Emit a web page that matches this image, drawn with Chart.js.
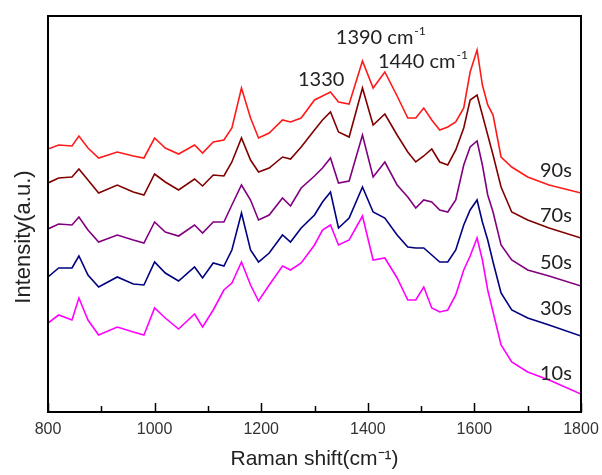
<!DOCTYPE html>
<html>
<head>
<meta charset="utf-8">
<script src="https://cdn.jsdelivr.net/npm/chart.js@4.4.1/dist/chart.umd.min.js"></script>
<style>
  html, body { margin: 0; padding: 0; background: #fff; }
</style>
</head>
<body>
<canvas id="raman" width="602" height="475"></canvas>
<script>
// Raman shift (cm-1) sample positions, shared by all five spectra
const shift = [800, 820, 845, 858, 875, 895, 930, 960, 980, 1000,
  1020, 1045, 1075, 1090, 1110, 1130, 1145, 1163, 1180, 1195,
  1215, 1240, 1255, 1275, 1300, 1315, 1330, 1345, 1365, 1390,
  1410, 1432, 1455, 1475, 1490, 1505, 1520, 1535, 1550, 1565,
  1580, 1592, 1605, 1615, 1625, 1635, 1650, 1670, 1700, 1740, 1800];

// intensities (a.u., stacked offsets as in the figure)
const s90 = [263, 267, 266, 276, 264, 254, 260, 256, 254, 274,
  264, 258, 267, 259, 270, 272, 284, 324, 294, 274,
  279, 292, 290, 294, 312, 316, 320, 310, 308, 351,
  324, 340, 316, 294, 294, 304, 292, 282, 285, 290,
  304, 340, 362, 327, 307, 297, 255, 245, 235, 227, 219];

const s70 = [229, 234, 235, 243, 232, 219, 227, 220, 217, 238,
  230, 222, 233, 226, 237, 236, 250, 274, 252, 240,
  244, 255, 253, 265, 282, 292, 300, 280, 275, 324,
  287, 298, 277, 260, 250, 256, 263, 250, 247, 262,
  284, 312, 317, 297, 277, 257, 225, 200, 192, 184, 174];

const s50 = [183, 188, 187, 195, 182, 170, 177, 172, 169, 190,
  180, 176, 187, 179, 190, 190, 207, 227, 212, 192,
  197, 214, 206, 224, 236, 244, 254, 229, 231, 277,
  235, 250, 227, 215, 204, 212, 210, 202, 200, 212,
  247, 265, 271, 247, 217, 200, 167, 152, 142, 136, 126];

const s30 = [135, 144, 144, 156, 137, 125, 135, 128, 127, 150,
  139, 131, 145, 134, 149, 146, 162, 199, 162, 150,
  159, 177, 170, 184, 197, 210, 220, 184, 194, 225,
  200, 194, 177, 165, 164, 164, 157, 150, 150, 162,
  187, 202, 212, 190, 172, 150, 119, 102, 94, 87, 76];

const s10 = [89, 97, 92, 114, 92, 77, 85, 80, 77, 104,
  94, 83, 98, 85, 102, 122, 129, 150, 127, 111,
  127, 146, 142, 149, 167, 182, 187, 167, 172, 196,
  152, 154, 134, 112, 112, 125, 104, 100, 102, 117,
  142, 156, 174, 152, 122, 100, 67, 50, 40, 32, 18];

const seriesNames = ["90s", "70s", "50s", "30s", "10s"];
const seriesValues = [s90, s70, s50, s30, s10];
const seriesColors = ["#ff1a1a", "#800000", "#800080", "#000080", "#ff00ff"];

// text written on the plot, at data coordinates
const notes = [
  { text: "1330", x: 1269, y: 326 },
  { text: "1390 cm", sup: "-1", x: 1340, y: 368 },
  { text: "1440 cm", sup: "-1", x: 1419, y: 344 },
  { text: "90s", x: 1723, y: 235 },
  { text: "70s", x: 1723, y: 190 },
  { text: "50s", x: 1723, y: 143 },
  { text: "30s", x: 1723, y: 97 },
  { text: "10s", x: 1723, y: 32 }
];

const frameAndNotes = {
  id: "frameAndNotes",
  afterDraw(chart) {
    const { ctx, chartArea: a, scales: { x, y } } = chart;
    ctx.save();
    ctx.strokeStyle = "#000";
    ctx.lineWidth = 2;
    ctx.strokeRect(a.left, a.top, a.right - a.left, a.bottom - a.top);

    // inward tick marks, long at labelled values
    ctx.lineWidth = 1.5;
    for (let v = 800; v <= 1800; v += 100) {
      const px = Math.round(x.getPixelForValue(v)) + 0.5;
      const len = v % 200 === 0 ? 9 : 6;
      ctx.beginPath();
      ctx.moveTo(px, a.bottom);
      ctx.lineTo(px, a.bottom - len);
      ctx.stroke();
    }

    ctx.fillStyle = "#222";
    ctx.textBaseline = "alphabetic";
    notes.forEach(n => {
      const px = x.getPixelForValue(n.x);
      const py = y.getPixelForValue(n.y);
      ctx.font = "20px Lato";
      ctx.fillText(n.text, px, py);
      if (n.sup) {
        const w = ctx.measureText(n.text).width;
        ctx.font = "12px Lato";
        ctx.fillText(n.sup, px + w + 1, py - 9);
      }
    });

    // y axis title, sits a little below the middle of the axis
    ctx.translate(24, 237);
    ctx.rotate(-Math.PI / 2);
    ctx.font = "22px 'Liberation Sans', Arial";
    ctx.textAlign = "center";
    ctx.textBaseline = "middle";
    ctx.fillText("Intensity(a.u.)", 0, 0);
    ctx.restore();
  }
};

const ctx = document.getElementById("raman").getContext("2d");
new Chart(ctx, {
  type: "line",
  data: {
    labels: shift,
    datasets: seriesNames.map((name, i) => ({
      label: name,
      data: shift.map((v, j) => ({ x: v, y: seriesValues[i][j] })),
      borderColor: seriesColors[i],
      borderWidth: 1.6,
      pointRadius: 0,
      tension: 0,
      fill: false
    }))
  },
  options: {
    responsive: false,
    animation: false,
    devicePixelRatio: 1,
    layout: { padding: { top: 16, right: 21, left: 0, bottom: 0 } },
    plugins: { legend: { display: false }, tooltip: { enabled: false } },
    scales: {
      x: {
        type: "linear",
        min: 800,
        max: 1800,
        ticks: {
          stepSize: 200,
          color: "#333",
          padding: 8,
          font: { family: "'Liberation Sans', Arial", size: 16 },
          callback: v => String(v)
        },
        grid: { display: false, drawTicks: false },
        border: { display: true, color: "#000", width: 2 },
        title: {
          display: true,
          text: "Raman shift(cm⁻¹)",
          color: "#222",
          font: { family: "'Liberation Sans', Arial", size: 21 },
          padding: { top: 0, bottom: 3 }
        },
        afterFit: s => { s.height = 63; s.paddingLeft = 0; s.paddingRight = 0; }
      },
      y: {
        min: 0,
        max: 396,
        ticks: { display: false },
        grid: { display: false, drawTicks: false },
        border: { display: true, color: "#000", width: 2 },
        afterFit: s => { s.width = 48; s.paddingTop = 0; s.paddingBottom = 0; }
      }
    }
  },
  plugins: [frameAndNotes]
});
</script>
</body>
</html>
